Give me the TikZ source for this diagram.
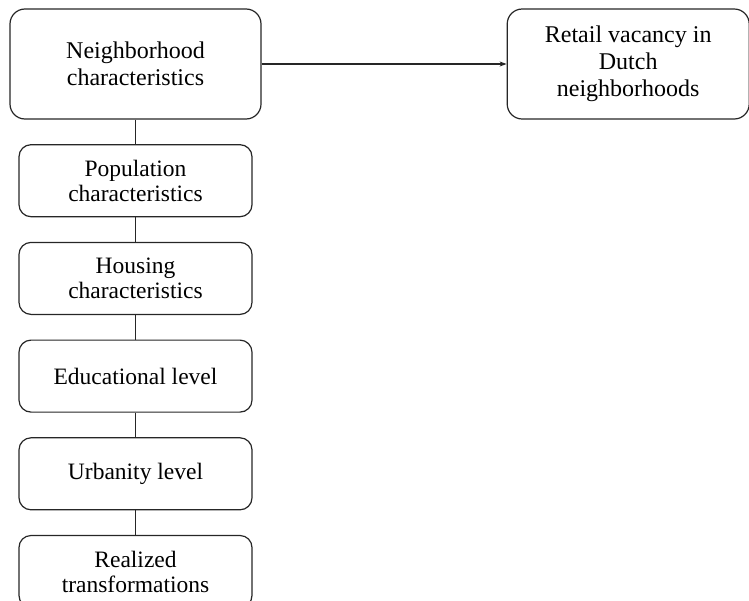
\documentclass[tikz,border=0pt]{standalone}
\usepackage{fontspec}
\setmainfont{Liberation Serif}
\usetikzlibrary{arrows.meta, positioning}

\begin{document}
\begin{tikzpicture}[
		node distance=24.5pt and 245pt,
		baseBox/.style={rectangle, rounded corners=12pt, draw=black!85, line width=1.2pt, align=center},
		mainBox/.style={baseBox, rounded corners=15pt, minimum width=251pt, minimum height=110pt, font=\fontsize{24}{27}\selectfont},
		factorBox/.style={baseBox, minimum width=233pt, minimum height=72pt, font=\fontsize{23.5}{25}\selectfont},
		link/.style={draw=black!85, line width=1.2pt},
		arrow/.style={link, -{Stealth[length=7pt, width=5pt]}}
		]
		\useasboundingbox (0,0) rectangle (749pt,-600pt);

		% Nodos
		\node[mainBox] (neigh) at (135.5pt,-64pt) {Neighborhood\\characteristics};
		\node[mainBox, minimum width=242pt, right=of neigh] (vacancy) {Retail vacancy in\\Dutch\\neighborhoods};
		\node[factorBox, below=of neigh] (population) {Population\\characteristics};
		\node[factorBox, below=of population] (housing) {Housing\\characteristics};
		\node[factorBox, below=of housing] (education) {Educational level};
		\node[factorBox, below=of education] (urbanity) {Urbanity level};
		\node[factorBox, below=of urbanity] (transform) {Realized\\transformations};

		% Flechas
		\draw[arrow] (neigh) -- (vacancy);
		\draw[link] (neigh) -- (population);
		\draw[link] (population) -- (housing);
		\draw[link] (housing) -- (education);
		\draw[link] (education) -- (urbanity);
		\draw[link] (urbanity) -- (transform);

	\end{tikzpicture}
\end{document}
